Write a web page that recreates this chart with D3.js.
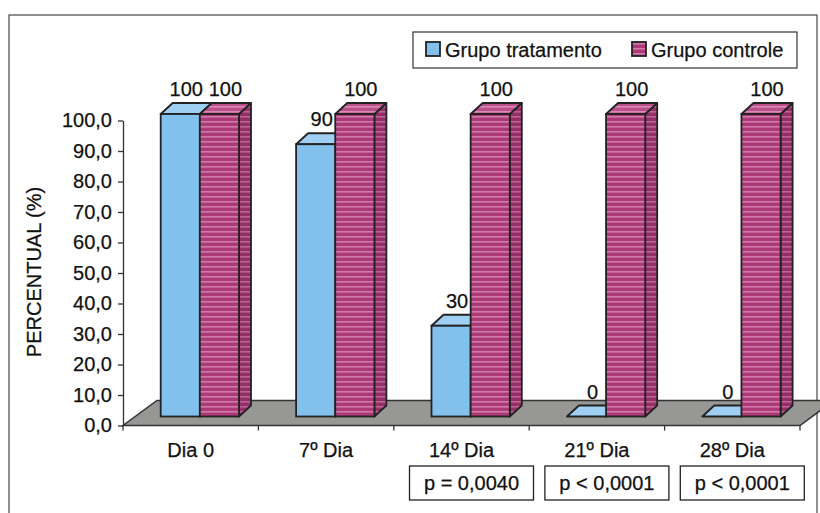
<!doctype html>
<html>
    <head>
        <title>Percentual por grupo</title>
        <script src="https://d3js.org/d3.v7.min.js"></script>
        <style>
            body { margin: 0; background: #fff; }
            text { font-family: "Liberation Sans", Arial, sans-serif; fill: #111; stroke: #111; stroke-width: 0.25px; }
        </style>
    </head>

    <body>
        <script>
            // data
            var categories = ["Dia 0", "7º Dia", "14º Dia", "21º Dia", "28º Dia"];
            var series = ["Grupo tratamento", "Grupo controle"];
            var tratamento = [100, 90, 30, 0, 0];
            var controle = [100, 100, 100, 100, 100];
            var pValues = ["", "", "p = 0,0040", "p < 0,0001", "p < 0,0001"];
            var yTicks = [0, 10, 20, 30, 40, 50, 60, 70, 80, 90, 100];

            var width = 820;
            var height = 513;
            var depthX = 12, depthY = 11;     // bar depth
            var floorX = 34, floorY = 25;     // floor depth

            var svg = d3.select("body")
                .append("svg")
                .attr("width", width)
                .attr("height", height);

            // patterns for the textured faces
            var defs = svg.append("defs");
            function stripes(id, base, light) {
                var p = defs.append("pattern")
                    .attr("id", id)
                    .attr("patternUnits", "userSpaceOnUse")
                    .attr("width", 8).attr("height", 5);
                p.append("rect").attr("width", 8).attr("height", 5).attr("fill", base);
                p.append("rect").attr("y", 1).attr("width", 8).attr("height", 1.6).attr("fill", light);
            }
            stripes("pinkFront", "#ac3a77", "#d07aa9");
            stripes("pinkSide", "#932e66", "#bb6594");
            stripes("pinkTop", "#bb4f89", "#d98bb5");

            // outer frame
            svg.append("rect")
                .attr("x", 9).attr("y", 15)
                .attr("width", 808).attr("height", 520)
                .attr("fill", "none")
                .attr("stroke", "#555")
                .attr("stroke-width", 1.3);

            var x = d3.scaleBand()
                .domain(categories)
                .range([123, 800]);

            var xInner = d3.scaleBand()
                .domain(series)
                .range([37.7, 116]);

            var y = d3.scaleLinear()
                .domain([0, 100])
                .range([425.5, 120.5]);

            // bars sit a little behind the axis plane
            var yBar = d3.scaleLinear()
                .domain([0, 100])
                .range([416.5, 114]);

            // floor
            var x0 = x.range()[0], x1 = x.range()[1], fy = y(0);
            svg.append("path")
                .attr("d", "M" + x0 + "," + fy + "L" + x1 + "," + fy +
                    "L" + (x1 + floorX) + "," + (fy - floorY) +
                    "L" + (x0 + floorX) + "," + (fy - floorY) + "Z")
                .attr("fill", "#979795")
                .attr("stroke", "#333")
                .attr("stroke-width", 1.5);

            // y axis
            var fmt = d3.formatLocale({decimal: ",", thousands: ".", grouping: [3], currency: ["", ""]}).format(".1f");
            var yAxis = svg.append("g")
                .attr("transform", "translate(" + x0 + ",0)")
                .call(d3.axisLeft(y).tickValues(yTicks).tickFormat(fmt).tickSize(5).tickPadding(6).tickSizeOuter(0));
            yAxis.select(".domain").attr("stroke", "#333").attr("stroke-width", 1.3);
            yAxis.selectAll(".tick line").attr("stroke", "#333").attr("stroke-width", 1.3);
            yAxis.selectAll("text")
                .attr("fill", "#111")
                .style("font-size", "20px")
                .style("font-family", "'Liberation Sans', Arial, sans-serif");

            // x axis ticks at the category boundaries
            var bounds = categories.map(function (c) { return x(c); }).concat([x1]);
            svg.selectAll(".xtick")
                .data(bounds)
                .enter().append("line")
                .attr("x1", function (d) { return d; })
                .attr("x2", function (d) { return d; })
                .attr("y1", fy)
                .attr("y2", fy + 5)
                .attr("stroke", "#333")
                .attr("stroke-width", 1.3);

            svg.selectAll(".xlabel")
                .data(categories)
                .enter().append("text")
                .attr("x", function (d) { return x(d) + x.bandwidth() / 2; })
                .attr("y", 457)
                .attr("text-anchor", "middle")
                .style("font-size", "20px")
                .text(function (d) { return d; });

            // bars
            var bars = [];
            categories.forEach(function (c, i) {
                bars.push({cat: c, s: series[0], v: tratamento[i]});
                bars.push({cat: c, s: series[1], v: controle[i]});
            });

            var colors = {
                "Grupo tratamento": {front: "#82c1ee", top: "#9fd0f3", side: "#5e9fd0"},
                "Grupo controle": {front: "url(#pinkFront)", top: "url(#pinkTop)", side: "url(#pinkSide)"}
            };

            var g = svg.selectAll(".bar")
                .data(bars)
                .enter().append("g")
                .attr("class", "bar");

            function bx(d) { return x(d.cat) + xInner(d.s); }
            var bw = xInner.bandwidth();

            // side
            g.append("path")
                .attr("d", function (d) {
                    var l = bx(d) + bw, t = yBar(d.v), b = yBar(0);
                    return "M" + l + "," + t + "L" + (l + depthX) + "," + (t - depthY) +
                        "L" + (l + depthX) + "," + (b - depthY) + "L" + l + "," + b + "Z";
                })
                .attr("fill", function (d) { return colors[d.s].side; })
                .attr("stroke", "#222").attr("stroke-width", 1.8).attr("stroke-linejoin", "round");

            // top
            g.append("path")
                .attr("d", function (d) {
                    var l = bx(d), t = yBar(d.v);
                    return "M" + l + "," + t + "L" + (l + bw) + "," + t +
                        "L" + (l + bw + depthX) + "," + (t - depthY) +
                        "L" + (l + depthX) + "," + (t - depthY) + "Z";
                })
                .attr("fill", function (d) { return colors[d.s].top; })
                .attr("stroke", "#222").attr("stroke-width", 1.8).attr("stroke-linejoin", "round");

            // front
            g.append("rect")
                .attr("x", bx)
                .attr("y", function (d) { return yBar(d.v); })
                .attr("width", bw)
                .attr("height", function (d) { return yBar(0) - yBar(d.v); })
                .attr("fill", function (d) { return colors[d.s].front; })
                .attr("stroke", "#222").attr("stroke-width", 1.8);

            // value labels
            g.append("text")
                .attr("x", function (d) { return bx(d) + bw / 2 + depthX / 2; })
                .attr("y", function (d) { return yBar(d.v) - depthY - 7; })
                .attr("text-anchor", "middle")
                .style("font-size", "20px")
                .text(function (d) { return d.v; });

            // p-value boxes
            var pb = svg.selectAll(".pbox")
                .data(categories.map(function (c, i) { return {cat: c, p: pValues[i]}; })
                    .filter(function (d) { return d.p !== ""; }))
                .enter().append("g")
                .attr("class", "pbox")
                .attr("transform", function (d) {
                    return "translate(" + (x(d.cat) + x.bandwidth() / 2 + 10) + ",466)";
                });
            pb.append("rect")
                .attr("x", -62).attr("width", 124).attr("height", 34)
                .attr("fill", "#fff").attr("stroke", "#222").attr("stroke-width", 1.3);
            pb.append("text")
                .attr("y", 24)
                .attr("text-anchor", "middle")
                .style("font-size", "20px")
                .text(function (d) { return d.p; });

            // y axis title
            svg.append("text")
                .attr("transform", "translate(41,272) rotate(-90)")
                .attr("text-anchor", "middle")
                .style("font-size", "20px")
                .text("PERCENTUAL (%)");

            // legend
            var legend = svg.append("g");
            legend.append("rect")
                .attr("x", 413).attr("y", 32)
                .attr("width", 384).attr("height", 36)
                .attr("fill", "#fff").attr("stroke", "#333").attr("stroke-width", 1.2);
            var legendX = [426, 632];
            var li = legend.selectAll(".li")
                .data(series)
                .enter().append("g")
                .attr("transform", function (d, i) { return "translate(" + legendX[i] + ",42)"; });
            li.append("rect")
                .attr("width", 14).attr("height", 14)
                .attr("fill", function (d) { return colors[d].front; })
                .attr("stroke", "#222").attr("stroke-width", 1.8);
            li.append("text")
                .attr("x", 19).attr("y", 15)
                .style("font-size", "20px")
                .text(function (d) { return d; });
        </script>
    </body>
</html>
